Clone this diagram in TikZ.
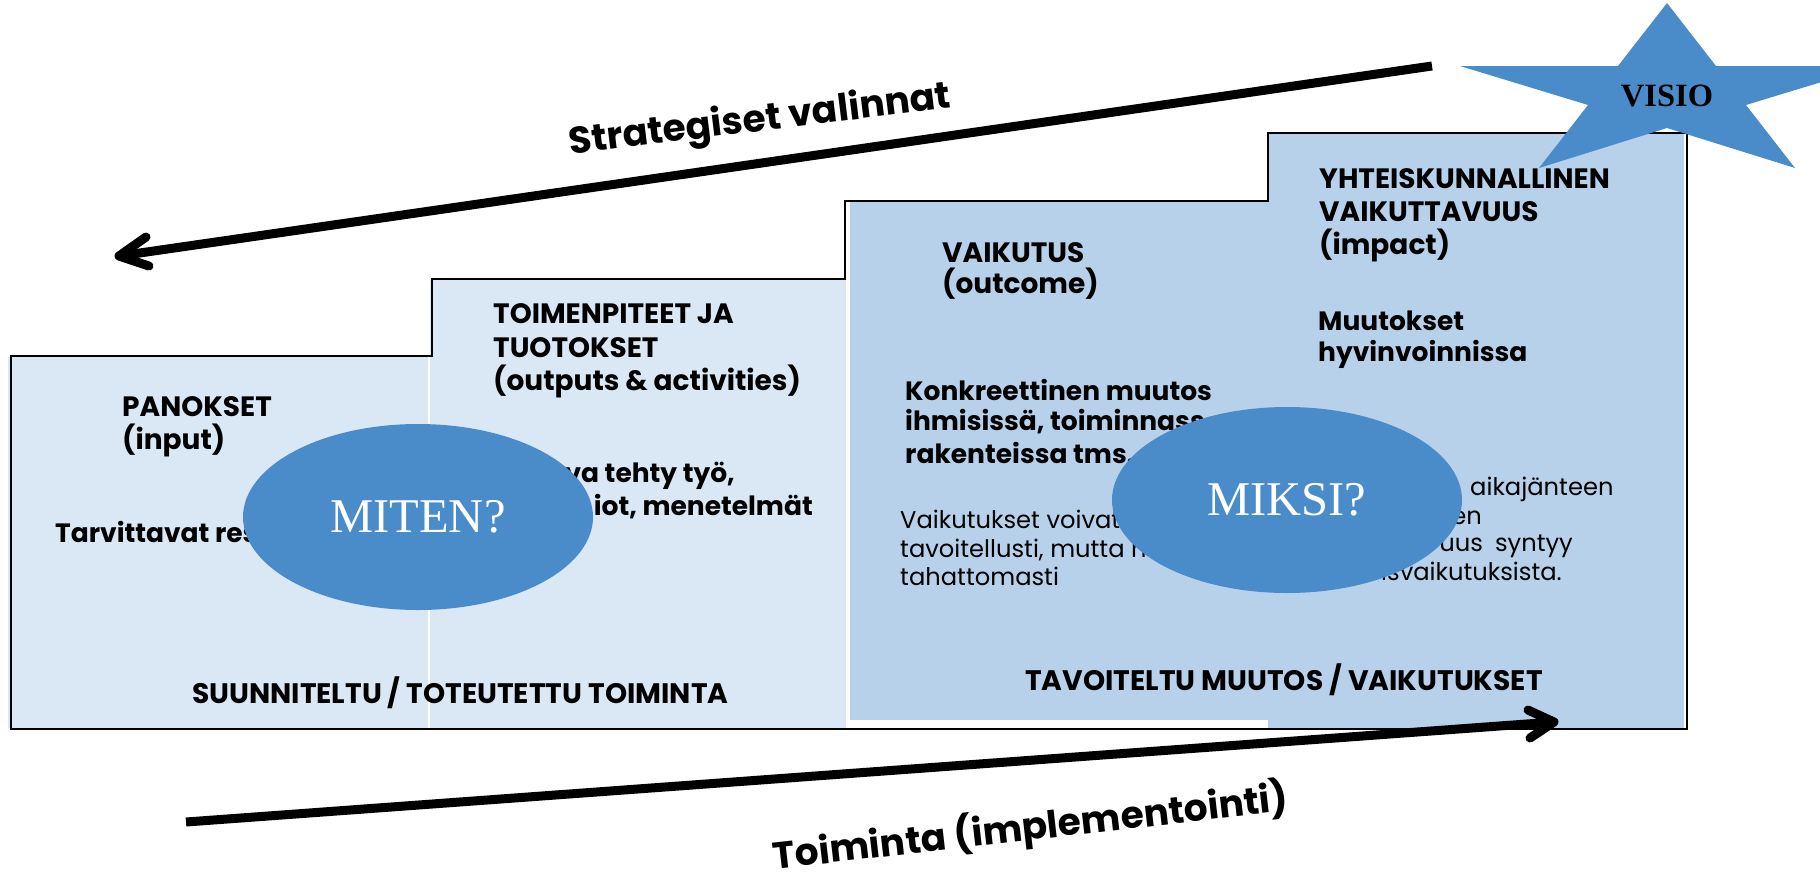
\documentclass[tikz,border=0pt]{standalone}
\usepackage{fontspec}
\usetikzlibrary{shapes.geometric}
\newfontfamily\pop{Poppins}
\newfontfamily\serifx{Liberation Serif}
\definecolor{lightfill}{HTML}{DAE8F5}
\definecolor{darkfill}{HTML}{B7D1EA}
\definecolor{ellblue}{HTML}{4A8CC9}
\tikzset{
  tl/.style={anchor=base west, inner sep=0pt, font=\pop\bfseries\fontsize{28}{33}\selectfont},
  bb/.style={anchor=base west, inner sep=0pt, font=\pop\bfseries\fontsize{26.5}{32}\selectfont},
  bbe/.style={bb, anchor=base east},
  rg/.style={anchor=base west, inner sep=0pt, font=\pop\fontsize{24.2}{28}\selectfont},
  rge/.style={rg, anchor=base east},
  bt/.style={anchor=base west, inner sep=0pt, font=\pop\bfseries\fontsize{28.2}{32}\selectfont},
  big/.style={anchor=base, inner sep=0pt, font=\pop\bfseries\fontsize{37.5}{40}\selectfont},
  whyell/.style={ellipse, fill=ellblue, inner sep=0pt, minimum width=350pt, minimum height=186pt,
    text=white, font=\serifx\fontsize{48.5}{50}\selectfont},
  outline/.style={line width=2.2pt, line join=miter},
  shaft/.style={line width=9pt},
  barb/.style={line width=9pt, line cap=round, line join=round},
}
\begin{document}
\begin{tikzpicture}[x=1pt,y=-1pt]
\useasboundingbox (0,0) rectangle (1820,879);
\clip (0,0) rectangle (1820,879);
% step fills
\fill[lightfill] (8,357) rectangle (428,728);
\fill[lightfill] (430,280) rectangle (846,728);
\fill[darkfill] (850,202) rectangle (1268,720);
\fill[darkfill] (1268,134) rectangle (1684,728);
% staircase outline
\draw[outline] (11,729) -- (11,356) -- (432,356) -- (432,279) -- (845,279) -- (845,201)
  -- (1268,201) -- (1268,133) -- (1687,133) -- (1687,729) -- cycle;
% step 1 texts
\node[tl] (p1) at (122,416) {PANOKSET};
\node[tl] (p2) at (122,449) {(input)};
\node[bb] (p3) at (55,542) {Tarvittavat res};
\node[bt] (s1) at (192,703) {SUUNNITELTU / TOTEUTETTU TOIMINTA};
% step 2 texts
\node[tl] (t1) at (493,323) {TOIMENPITEET JA};
\node[tl] (t2) at (493,357) {TUOTOKSET};
\node[tl] (t3) at (493,390) {(outputs \& activities)};
\node[bbe] (t4) at (735,482) {va tehty työ,};
\node[bbe] (t5) at (813,515) {iot, menetelmät};
% step 3 texts
\node[tl] (v1) at (942,262) {VAIKUTUS};
\node[tl] (v2) at (942,293) {(outcome)};
\node[bb] (k1) at (905,400) {Konkreettinen muutos};
\node[bb] (k2) at (905,430) {ihmisissä, toiminnass};
\node[bb] (k3) at (905,463) {rakenteissa tms.};
\node[rg] (r1) at (900,528) {Vaikutukset voivat};
\node[rg] (r2) at (900,557) {tavoitellusti, mutta m};
\node[rg] (r3) at (900,585) {tahattomasti};
\node[bt] (b2) at (1025,690) {TAVOITELTU MUUTOS / VAIKUTUKSET};
% step 4 texts
\node[tl] (y1) at (1319,188) {YHTEISKUNNALLINEN};
\node[tl] (y2) at (1319,221) {VAIKUTTAVUUS};
\node[tl] (y3) at (1319,254) {(impact)};
\node[bb] (m1) at (1318,330) {Muutokset};
\node[bb] (m2) at (1318,361) {hyvinvoinnissa};
\node[rg] (f1) at (1470,495) {aikajänteen};
\node[rge] (f2) at (1482,524) {en};
\node[rge] (f3) at (1573,551) {uus\hskip0.5em syntyy};
\node[rge] (f4) at (1562,580) {isvaikutuksista.};
% ellipses
\node[whyell] (miten) at (418,517) {MITEN?};
\node[whyell] (miksi) at (1287,500) {MIKSI?};
% star
\fill[ellblue] (1667,3) -- (1716,66) -- (1874,66) -- (1746,105) -- (1795,168) -- (1667,128)
  -- (1539,168) -- (1588,105) -- (1460,66) -- (1618,66) -- cycle;
\node[inner sep=0pt, font=\serifx\bfseries\fontsize{32.5}{34}\selectfont] (visio) at (1667,96) {VISIO};
% upper arrow
\coordinate (ua0) at (1432,66);
\coordinate (ua1) at (119,256);
\coordinate (uaa) at (146,237);
\coordinate (uab) at (149,266);
\draw[shaft] (ua0) -- (ua1);
\draw[barb] (uaa) -- (ua1) -- (uab);
\node[big, rotate=7] (strat) at (761,131) {Strategiset valinnat};
% lower arrow
\coordinate (la0) at (186,822);
\coordinate (la1) at (1554,722);
\coordinate (laa) at (1528,710);
\coordinate (lab) at (1530,738);
\draw[shaft] (la0) -- (la1);
\draw[barb] (laa) -- (la1) -- (lab);
\node[big, rotate=6.5] (toim) at (1032,840) {Toiminta (implementointi)};
\end{tikzpicture}
\end{document}
